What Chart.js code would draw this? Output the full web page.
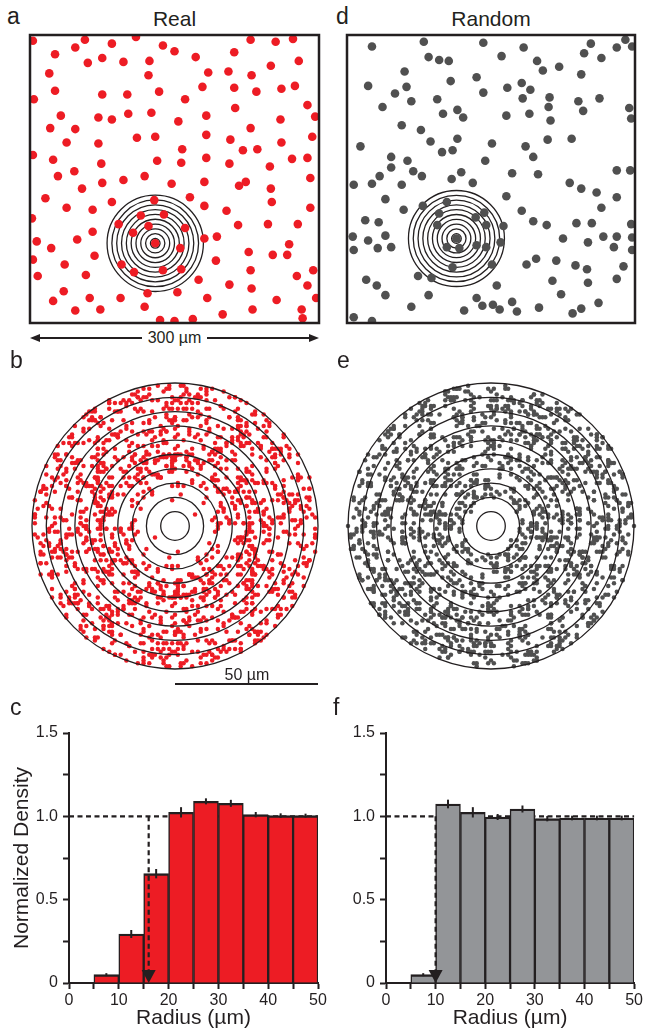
<!DOCTYPE html>
<html>
<head>
<meta charset="utf-8">
<script src="https://cdn.jsdelivr.net/npm/chart.js@4.4.1/dist/chart.umd.min.js"></script>
<style>
  html, body { margin: 0; padding: 0; background: #fff; }
  body { width: 645px; height: 1035px; position: relative; overflow: hidden;
         font-family: "Liberation Sans", Arial, Helvetica, sans-serif; color: #231f20; }
  canvas { position: absolute; }
  .lbl { position: absolute; line-height: 1; white-space: nowrap; }
</style>
</head>
<body>
<canvas id="realField" width="299" height="320" style="left:25px;top:30px"></canvas>
<canvas id="randomField" width="298" height="298" style="left:342px;top:30px"></canvas>
<canvas id="realDrp" width="296" height="316" style="left:27px;top:378px"></canvas>
<canvas id="randomDrp" width="296" height="296" style="left:343px;top:378px"></canvas>
<canvas id="realHist" width="330" height="345" style="left:0px;top:690px"></canvas>
<canvas id="randomHist" width="325" height="345" style="left:320px;top:690px"></canvas>

<div class="lbl" style="left:7px;top:5px;font-size:23px">a</div>
<div class="lbl" style="left:30px;width:289px;text-align:center;top:8px;font-size:21px">Real</div>
<div class="lbl" style="left:336px;top:5px;font-size:23px">d</div>
<div class="lbl" style="left:347px;width:288px;text-align:center;top:8px;font-size:21px">Random</div>
<div class="lbl" style="left:0px;width:349px;text-align:center;top:330px;font-size:16px"><span style="background:#fff;padding:0 6px">300 µm</span></div>
<div class="lbl" style="left:10px;top:349px;font-size:23px">b</div>
<div class="lbl" style="left:337px;top:349px;font-size:23px">e</div>
<div class="lbl" style="left:147px;width:200px;text-align:center;top:667px;font-size:16px">50 µm</div>
<div class="lbl" style="left:10px;top:696px;font-size:23px">c</div>
<div class="lbl" style="left:333px;top:696px;font-size:23px">f</div>

<script>
// Cell positions in the 300 x 300 µm field, µm (x from the left edge, y from the top edge)
const realCellsX = [3,57,85,110,47,26,138,150,229,255,273,212,172,75,60,97,124,279,250,20,
  123,185,206,230,26,75,101,134,179,212,235,261,275,4,161,288,32,71,85,102,
  126,183,213,154,260,296,21,47,229,38,71,111,130,183,208,261,293,3,24,74,
  132,158,157,183,221,236,207,272,288,249,29,46,119,97,75,54,147,181,224,217,
  250,291,16,129,166,85,38,65,181,204,251,291,2,115,139,92,123,161,216,247,
  278,107,181,194,7,22,49,65,130,156,3,67,36,95,193,227,252,267,269,8,
  58,108,138,157,229,277,294,175,207,230,288,35,24,62,94,122,153,184,256,297,
  47,73,119,200,231,282,283,135,150,169];
const realCellsY = [6,5,9,2,13,20,11,17,5,7,4,18,23,24,29,28,27,27,32,40,
  42,39,38,42,58,62,62,59,54,55,59,56,53,67,67,73,84,86,88,82,
  81,84,76,90,88,85,97,98,97,112,113,107,106,104,109,112,106,125,130,134,
  131,119,133,128,120,119,134,129,128,137,147,142,147,151,154,160,155,153,153,157,
  160,149,170,172,169,174,180,182,178,183,174,180,191,188,187,197,199,201,198,197,
  197,206,212,210,215,222,213,205,217,222,234,230,239,239,235,226,229,229,218,251,
  250,247,245,244,245,251,245,255,260,264,261,267,277,274,274,269,268,274,276,274,
  287,286,283,291,286,286,295,297,298,296];

const randomCellsX = [26,80,142,184,254,290,297,281,85,96,106,161,198,247,265,60,204,221,244,22,
  62,108,135,182,50,67,94,142,167,191,183,211,241,263,37,100,115,121,166,190,
  210,246,212,294,296,57,77,14,46,46,63,87,99,110,115,69,78,34,7,26,
  57,109,119,131,144,151,172,186,194,199,209,234,232,244,260,281,295,281,265,40,
  59,79,104,166,182,19,33,96,134,143,94,145,163,194,208,239,255,296,6,22,
  40,7,32,46,114,104,117,135,145,160,110,151,74,88,225,251,267,281,278,297,
  297,187,197,218,238,250,288,214,251,281,20,31,40,85,156,223,67,135,141,152,
  159,172,177,122,200,235,244,262,7,26];
const randomCellsY = [12,7,8,13,9,5,12,13,23,26,27,22,27,19,24,38,37,33,41,53,
  54,48,44,50,61,69,67,60,55,57,66,65,69,66,75,82,78,86,84,82,
  75,79,89,76,87,94,99,116,127,138,131,111,122,120,108,142,147,147,156,155,
  156,150,143,154,131,113,144,116,127,145,109,108,154,160,164,141,141,169,180,171,
  182,178,174,168,183,193,195,186,190,185,198,198,199,194,198,196,196,197,210,214,
  209,224,222,221,212,221,222,219,221,216,242,239,251,253,212,216,210,210,221,224,
  211,239,233,235,240,244,241,256,258,254,255,261,271,271,261,270,283,274,282,281,
  286,278,288,287,284,290,285,279,294,298];

// Cell at the centre of the drawn annuli, µm
const realRingCenter = [130, 217];
const randomRingCenter = [114, 212];
// Annulus radii, µm
const ringRadii = [5, 10, 15, 20, 25, 30, 35, 40, 45, 50];
const fieldSizeUm = 300;
const drpMaxRadiusUm = 50;

// Density recovery profile: bins (start of each 5 µm bin), normalized density and error
const binStarts = [5, 10, 15, 20, 25, 30, 35, 40, 45];
const binWidthUm = 5;
const realDensity = [0.05, 0.294, 0.656, 1.024, 1.09, 1.078, 1.01, 1.004, 1.004];
const realDensityErr = [0.003, 0.018, 0.022, 0.025, 0.012, 0.015, 0.01, 0.008, 0.006];
const randomDensity = [0.05, 1.074, 1.024, 0.996, 1.044, 0.986, 0.99, 0.99, 0.99];
const randomDensityErr = [0.003, 0.02, 0.025, 0.012, 0.015, 0.01, 0.008, 0.008, 0.008];
const referenceDensity = 1.0;
const realEffectiveRadius = 16;
const randomEffectiveRadius = 10;

const INK = '#231f20';
const RED = '#ed1c24';
const DARK_GREY = '#505050';
const BAR_GREY = '#939598';

Chart.defaults.font.family = '"Liberation Sans", Arial, Helvetica, sans-serif';
Chart.defaults.color = INK;
Chart.defaults.animation = false;
Chart.defaults.responsive = false;
Chart.defaults.devicePixelRatio = 1;
Chart.defaults.events = [];
Chart.defaults.plugins.legend.display = false;
Chart.defaults.plugins.tooltip.enabled = false;

function toPoints(xs, ys) {
  return xs.map((x, i) => ({ x: x, y: ys[i] }));
}

// Positions of every neighbour relative to each cell, kept within maxR
function neighbourOffsets(xs, ys, maxR) {
  const out = [];
  for (let i = 0; i < xs.length; i++) {
    for (let j = 0; j < xs.length; j++) {
      if (i === j) continue;
      const dx = xs[j] - xs[i], dy = ys[j] - ys[i];
      if (dx * dx + dy * dy <= maxR * maxR) out.push({ x: dx, y: dy });
    }
  }
  return out;
}

function ringPlugin(id, center, onTop) {
  const draw = (chart) => {
    const { ctx, scales: { x, y } } = chart;
    const cx = x.getPixelForValue(center[0]);
    const cy = y.getPixelForValue(center[1]);
    ctx.save();
    ctx.strokeStyle = INK;
    ctx.lineWidth = 1.3;
    ringRadii.forEach(r => {
      const rp = Math.abs(x.getPixelForValue(center[0] + r) - cx);
      ctx.beginPath();
      ctx.arc(cx, cy, rp, 0, Math.PI * 2);
      ctx.stroke();
    });
    ctx.restore();
  };
  const p = { id: id };
  p[onTop ? 'afterDatasetsDraw' : 'beforeDatasetsDraw'] = draw;
  return p;
}

const framePlugin = {
  id: 'frame',
  afterDraw(chart) {
    const { ctx, chartArea: a } = chart;
    ctx.save();
    ctx.strokeStyle = INK;
    ctx.lineWidth = 2.5;
    ctx.strokeRect(a.left, a.top, a.right - a.left, a.bottom - a.top);
    ctx.restore();
  }
};

// Double-headed arrow under the field spanning its full width
const widthArrowPlugin = {
  id: 'widthArrow',
  afterDraw(chart) {
    const { ctx, chartArea: a, scales: { x } } = chart;
    const y = a.bottom + 15;
    const x0 = x.getPixelForValue(0), x1 = x.getPixelForValue(fieldSizeUm);
    ctx.save();
    ctx.strokeStyle = INK; ctx.fillStyle = INK; ctx.lineWidth = 2;
    ctx.beginPath(); ctx.moveTo(x0 + 6, y); ctx.lineTo(x1 - 6, y); ctx.stroke();
    ctx.beginPath(); ctx.moveTo(x0, y); ctx.lineTo(x0 + 10, y - 4); ctx.lineTo(x0 + 10, y + 4); ctx.closePath(); ctx.fill();
    ctx.beginPath(); ctx.moveTo(x1, y); ctx.lineTo(x1 - 10, y - 4); ctx.lineTo(x1 - 10, y + 4); ctx.closePath(); ctx.fill();
    ctx.restore();
  }
};

// Scale bar from the profile centre out to its maximum radius
const radiusBarPlugin = {
  id: 'radiusBar',
  afterDraw(chart) {
    const { ctx, chartArea: a, scales: { x } } = chart;
    const y = a.bottom + 15;
    ctx.save();
    ctx.strokeStyle = INK; ctx.lineWidth = 2;
    ctx.beginPath();
    ctx.moveTo(x.getPixelForValue(0), y);
    ctx.lineTo(x.getPixelForValue(drpMaxRadiusUm), y);
    ctx.stroke();
    ctx.restore();
  }
};

function fieldChart(canvasId, xs, ys, color, ringCenter, padding, extra) {
  return new Chart(document.getElementById(canvasId), {
    type: 'scatter',
    data: { datasets: [{ data: toPoints(xs, ys), pointRadius: 4.3, pointBorderWidth: 0,
                         pointBackgroundColor: color, backgroundColor: color, clip: 0 }] },
    options: {
      layout: { padding: padding },
      scales: {
        x: { type: 'linear', min: 0, max: fieldSizeUm, display: false },
        y: { type: 'linear', min: 0, max: fieldSizeUm, reverse: true, display: false }
      }
    },
    plugins: [ringPlugin('rings', ringCenter, false), framePlugin].concat(extra)
  });
}

function drpChart(canvasId, xs, ys, color, padding, extra) {
  return new Chart(document.getElementById(canvasId), {
    type: 'scatter',
    data: { datasets: [{ data: neighbourOffsets(xs, ys, drpMaxRadiusUm), pointRadius: 2.25,
                         pointBorderWidth: 0, pointBackgroundColor: color, backgroundColor: color, clip: false }] },
    options: {
      layout: { padding: padding },
      scales: {
        x: { type: 'linear', min: -drpMaxRadiusUm, max: drpMaxRadiusUm, display: false },
        y: { type: 'linear', min: -drpMaxRadiusUm, max: drpMaxRadiusUm, reverse: true, display: false }
      }
    },
    plugins: [ringPlugin('rings', [0, 0], true)].concat(extra)
  });
}

function histChart(canvasId, values, errors, color, effRadius, yTitle, geom) {
  const refLine = {
    id: 'refLine',
    beforeDatasetsDraw(chart) {
      const { ctx, scales: { x, y } } = chart;
      const py = y.getPixelForValue(referenceDensity);
      ctx.save();
      ctx.strokeStyle = INK; ctx.lineWidth = 2.2; ctx.setLineDash([5, 3.5]);
      ctx.beginPath(); ctx.moveTo(x.getPixelForValue(0), py); ctx.lineTo(x.getPixelForValue(50), py); ctx.stroke();
      ctx.restore();
    }
  };
  const overlays = {
    id: 'overlays',
    afterDatasetsDraw(chart) {
      const { ctx, scales: { x, y } } = chart;
      ctx.save();
      ctx.strokeStyle = INK; ctx.fillStyle = INK; ctx.lineWidth = 2;
      // error bars
      binStarts.forEach((b, i) => {
        const px = x.getPixelForValue(b + binWidthUm / 2);
        ctx.beginPath();
        ctx.moveTo(px, y.getPixelForValue(values[i] - errors[i]) + 1);
        ctx.lineTo(px, y.getPixelForValue(values[i] + errors[i]) - 1);
        ctx.stroke();
      });
      // dashed drop line to the effective radius
      const ex = x.getPixelForValue(effRadius);
      const tip = y.getPixelForValue(0);
      ctx.lineWidth = 2.2; ctx.setLineDash([5, 3.5]);
      ctx.beginPath(); ctx.moveTo(ex, y.getPixelForValue(referenceDensity)); ctx.lineTo(ex, tip - 12); ctx.stroke();
      ctx.setLineDash([]);
      ctx.beginPath(); ctx.moveTo(ex, tip); ctx.lineTo(ex - 7, tip - 13); ctx.lineTo(ex + 7, tip - 13); ctx.closePath(); ctx.fill();
      ctx.restore();
    }
  };
  const axisGrid = { display: true, drawOnChartArea: false, drawTicks: true, tickLength: 6,
                     tickWidth: 2, tickColor: INK, offset: false };
  const axisBorder = { display: true, width: 2, color: INK };
  return new Chart(document.getElementById(canvasId), {
    type: 'bar',
    data: { datasets: [{
      data: binStarts.map((b, i) => ({ x: b + binWidthUm / 2, y: values[i] })),
      backgroundColor: color, borderColor: INK,
      borderWidth: { top: 2.3, left: 1.5, right: 1.5, bottom: 0 },
      borderSkipped: false, barPercentage: 1, categoryPercentage: 1
    }] },
    options: {
      layout: { padding: geom.padding },
      scales: {
        x: {
          type: 'linear', min: 0, max: 50, offset: false,
          grid: axisGrid, border: axisBorder,
          ticks: { stepSize: 5, autoSkip: false, maxRotation: 0, padding: 2, color: INK,
                   font: { size: 16 }, callback: v => (v % 10 === 0 ? String(v) : '') },
          title: { display: true, text: 'Radius (µm)', color: INK, font: { size: 21 },
                   padding: { top: 0, bottom: 4 } },
          afterFit: s => { s.height = geom.xAxisH; }
        },
        y: {
          type: 'linear', min: 0, max: 1.5,
          grid: axisGrid, border: axisBorder,
          ticks: { stepSize: 0.25, autoSkip: false, padding: 5, color: INK, font: { size: 16 },
                   callback: v => ((v * 2) % 1 === 0 ? (v === 0 ? '0' : v.toFixed(1)) : '') },
          title: { display: !!yTitle, text: yTitle || '', color: INK, font: { size: 21 },
                   padding: { top: 10, bottom: 0 } },
          afterFit: s => { s.width = geom.yAxisW; }
        }
      }
    },
    plugins: [refLine, overlays]
  });
}

fieldChart('realField', realCellsX, realCellsY, RED, realRingCenter,
           { left: 5, top: 5, right: 5, bottom: 27 }, [widthArrowPlugin]);
fieldChart('randomField', randomCellsX, randomCellsY, DARK_GREY, randomRingCenter,
           { left: 5, top: 5, right: 5, bottom: 5 }, []);
drpChart('realDrp', realCellsX, realCellsY, RED, { left: 5, top: 5, right: 5, bottom: 25 }, [radiusBarPlugin]);
drpChart('randomDrp', randomCellsX, randomCellsY, DARK_GREY, { left: 5, top: 5, right: 5, bottom: 5 }, []);
histChart('realHist', realDensity, realDensityErr, RED, realEffectiveRadius, 'Normalized Density',
          { padding: { left: 0, top: 43, right: 12, bottom: 0 }, yAxisW: 69, xAxisH: 52 });
histChart('randomHist', randomDensity, randomDensityErr, BAR_GREY, randomEffectiveRadius, '',
          { padding: { left: 0, top: 43, right: 10, bottom: 0 }, yAxisW: 66, xAxisH: 52 });
</script>
</body>
</html>
